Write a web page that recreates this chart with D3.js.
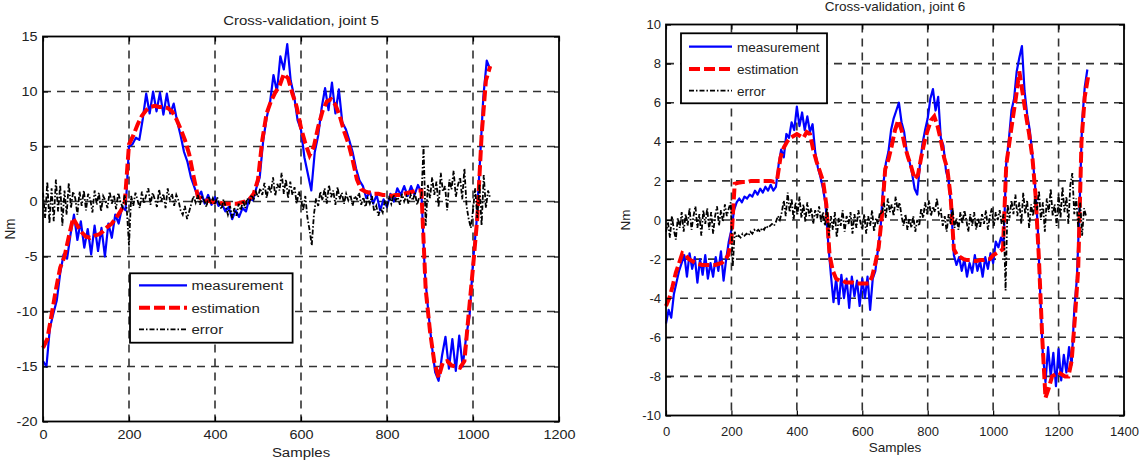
<!DOCTYPE html>
<html>
<head>
<meta charset="utf-8">
<script src="https://cdn.jsdelivr.net/npm/d3@7"></script>
<style>
  body { margin: 0; background: #fff; }
  svg { display: block; background: #fff; }
  .meas { fill: none; stroke: #0000ff; stroke-width: 2.2; stroke-linejoin: round; }
  .est { fill: none; stroke: #ff0000; stroke-width: 4; stroke-dasharray: 11,4; }
  .err { fill: none; stroke: #000; stroke-width: 1.8; stroke-dasharray: 5,2,1.5,2; }
  .grid { stroke: #333; stroke-width: 1.6; stroke-dasharray: 8,6; }
  .tick line { stroke: #000; stroke-width: 1.2; }
  .domain { display: none; }
  text { font-family: "Liberation Sans", Arial, sans-serif; fill: #222; }
</style>
</head>
<body>
<svg id="fig" width="1139" height="462"></svg>
<script>
// ---- joint 5 ----
var xTicks5 = [0, 200, 400, 600, 800, 1000, 1200];
var yTicks5 = [-20, -15, -10, -5, 0, 5, 10, 15];
var measStep5 = 8;
var meas5 = [
  -14.5,-15.0,-11.5,-10.2,-9.0,-6.5,-4.8,-5.2,-3.0,-1.2,
  -3.5,-1.8,-4.2,-2.5,-4.8,-2.2,-4.5,-2.4,-5.0,-2.0,
  -3.3,-1.2,-2.0,-0.5,-0.8,5.0,5.2,5.8,5.6,7.5,
  9.8,8.0,10.0,8.2,9.9,7.9,9.8,8.0,8.9,7.3,
  6.0,4.5,3.6,2.2,1.3,0.4,0.9,-0.2,0.6,-0.3,
  0.4,-0.4,-0.2,-0.9,-0.5,-1.6,-0.8,-1.4,-0.6,-0.9,
  0.3,0.1,1.2,2.2,5.5,7.6,9.0,11.5,10.0,13.2,
  12.0,14.3,11.0,9.6,7.4,6.5,4.0,2.5,1.0,4.5,
  6.0,8.5,10.3,8.3,10.8,8.0,10.2,7.2,6.6,5.6,
  4.5,3.0,1.9,1.4,0.3,0.9,-0.2,0.6,-0.8,0.2,
  -0.5,0.7,0.0,1.2,0.6,1.4,0.5,1.4,0.6,1.5,
  0.8,-6.5,-10.0,-13.0,-15.5,-16.3,-14.0,-12.3,-15.2,-12.5,
  -15.4,-12.2,-15.0,-12.3,-10.4,-5.5,-2.0,3.5,9.5,12.8,
  12.0
];
var estStep5 = 10;
var est5 = [
  -13.3,-12.5,-10.3,-8.0,-6.0,-5.0,-3.2,-1.5,-2.2,-2.8,
  -3.2,-3.3,-3.1,-3.0,-2.7,-2.3,-2.0,-1.5,-0.9,-0.2,
  5.2,6.0,7.0,7.8,8.3,8.6,8.7,8.6,8.6,8.5,
  8.2,7.5,6.6,5.6,4.3,2.3,0.5,0.2,0.1,0.0,
  -0.1,-0.1,-0.2,-0.2,-0.2,-0.2,-0.1,0.0,0.2,0.7,
  2.0,5.6,8.0,9.1,9.9,10.5,11.6,11.2,9.8,8.6,
  6.7,5.3,4.2,5.0,6.8,8.2,9.1,9.3,8.8,7.8,
  6.4,5.3,3.8,2.0,1.1,0.9,0.8,0.7,0.7,0.6,
  0.6,0.5,0.6,0.6,0.7,0.8,0.9,1.0,1.0,-8.0,
  -11.8,-14.6,-16.0,-14.6,-14.5,-14.9,-15.0,-15.1,-14.5,-10.2,
  -6.0,-1.5,6.0,11.0,12.3
];
var errStep5 = 5;
var err5 = [
  0.8,-1.5,1.8,-2.0,1.2,-1.8,2.0,-0.9,1.5,-2.2,1.0,-1.2,1.7,-0.6,0.9,0.3,-1.2,0.9,-0.4,1.0,
  -0.8,0.7,0.2,-1.0,1.0,-0.3,0.8,-0.9,0.5,0.1,-0.6,0.9,-0.2,0.6,-0.7,0.8,0.0,-0.5,0.6,-0.8,
  -4.0,0.5,-0.4,0.8,0.1,-0.6,0.9,-0.2,0.6,1.2,-0.3,0.8,0.2,-0.5,1.1,0.0,0.7,-0.6,1.2,0.1,
  0.7,-0.4,0.6,0.1,-0.8,-1.2,-0.4,-1.6,-0.9,-0.2,0.5,-0.1,0.6,-0.3,0.4,0.1,-0.5,0.5,-0.2,0.3,
  -0.3,0.4,-0.2,-0.7,0.2,-0.5,-1.2,-0.4,-1.5,-0.6,-1.3,-0.2,-0.8,0.1,-0.6,0.3,-0.1,0.6,0.2,0.9,
  0.4,1.2,0.6,1.7,0.3,1.4,0.8,2.2,0.5,1.6,1.0,2.6,0.7,2.0,0.3,1.8,0.6,1.3,-0.2,0.9,
  0.2,-0.8,0.5,-1.5,-2.6,-4.0,-1.2,0.3,-0.4,0.9,0.1,1.2,-0.2,1.5,0.4,1.0,-0.3,1.3,0.2,0.8,
  -0.2,0.7,0.1,0.6,-0.4,0.5,0.2,0.8,-0.3,0.4,-0.5,0.3,-0.2,0.5,-0.9,-0.4,-1.3,-0.6,-1.0,0.1,
  -0.4,0.5,-0.2,0.6,0.1,0.4,-0.3,0.7,0.0,0.5,-0.2,0.6,0.1,0.8,-0.3,0.4,0.3,5.0,-2.2,1.5,
  0.3,2.2,0.6,1.8,-0.5,2.6,0.9,1.4,-0.8,2.0,1.1,2.8,0.4,1.5,2.2,0.2,3.0,-0.4,-1.6,-2.4,
  -0.8,1.2,-1.5,1.6,-2.2,2.4,-0.6,1.0,0.3
];

// ---- joint 6 ----
var xTicks6 = [0, 200, 400, 600, 800, 1000, 1200, 1400];
var yTicks6 = [-10, -8, -6, -4, -2, 0, 2, 4, 6, 8, 10];
var measStep6 = 8;
var meas6 = [
  -5.3,-4.6,-5.0,-3.8,-3.2,-2.6,-2.2,-1.8,-2.9,-1.7,
  -2.5,-1.9,-3.2,-2.0,-2.8,-1.8,-3.0,-2.2,-2.9,-1.9,
  -2.6,-1.6,-3.1,-2.0,-1.1,-0.5,0.5,0.9,1.1,0.9,
  1.2,1.1,1.3,1.2,1.5,1.3,1.6,1.4,1.7,1.5,
  1.8,1.5,1.7,2.8,3.6,3.2,4.4,4.2,5.0,4.6,
  5.8,4.8,5.5,4.6,5.3,4.5,4.9,3.5,2.7,2.2,
  1.6,0.8,-1.2,-2.8,-4.2,-3.0,-4.3,-2.8,-4.0,-3.0,
  -4.5,-2.9,-3.9,-3.1,-4.4,-3.0,-4.0,-2.9,-4.6,-3.0,
  -2.6,-1.5,-0.4,1.8,2.9,3.5,4.6,5.2,5.6,6.0,
  5.0,4.5,3.5,3.0,2.4,1.6,1.3,2.8,3.9,4.6,
  5.2,6.2,6.7,5.6,6.3,4.2,3.8,2.5,2.0,0.6,
  -1.8,-2.3,-1.9,-2.6,-2.0,-2.9,-2.2,-2.7,-1.8,-2.6,
  -2.1,-2.9,-1.9,-2.5,-1.7,-2.2,-1.1,-1.4,-0.9,-1.2,
  2.9,4.1,5.6,6.2,7.6,8.3,8.9,6.6,5.4,4.6,
  3.3,1.8,-0.2,-3.8,-6.9,-8.3,-6.5,-8.0,-6.8,-8.5,
  -6.6,-8.2,-6.9,-7.8,-6.5,-7.4,-4.6,-3.0,0.6,5.0,
  6.8,7.7
];
var estStep6 = 10;
var est6 = [
  -4.4,-4.0,-3.4,-2.7,-2.2,-1.7,-1.8,-2.0,-2.1,-2.2,
  -2.25,-2.3,-2.3,-2.3,-2.3,-2.3,-2.25,-2.2,-2.05,-1.8,
  -1.0,1.85,1.9,1.93,1.95,1.95,2.0,2.0,2.0,2.0,
  2.0,2.0,2.0,1.95,2.1,3.2,3.7,4.0,4.2,4.3,
  4.4,4.3,4.2,4.5,4.4,3.6,3.0,2.5,2.0,0.8,
  -1.8,-2.6,-3.0,-3.1,-3.1,-3.2,-3.2,-3.2,-3.25,-3.25,
  -3.25,-3.25,-3.25,-2.9,-2.2,-1.4,0.2,2.6,3.1,3.8,
  4.6,5.1,4.6,3.8,3.2,2.7,2.1,2.3,3.2,4.0,
  4.6,5.1,5.3,4.8,4.1,3.2,2.6,1.2,-1.5,-1.8,
  -1.9,-2.0,-2.05,-2.05,-2.1,-2.1,-2.05,-2.05,-2.0,-2.0,
  -1.8,-1.7,-1.6,-1.5,2.8,4.0,5.2,6.3,7.6,6.5,
  5.4,4.4,3.2,1.2,-2.0,-6.0,-9.1,-8.6,-8.0,-7.9,
  -7.8,-7.9,-8.0,-8.0,-7.2,-5.0,-2.5,4.0,6.3,7.3
];
var errStep6 = 6;
var err6 = [
  -0.6,-0.1,-0.9,0.2,-0.5,-1.0,0.1,-0.4,0.4,-0.6,0.3,-0.3,0.6,-0.5,0.2,0.7,-0.4,0.3,-0.8,0.5,
  -0.2,0.6,-0.5,0.4,-0.7,0.2,0.7,-0.3,0.5,-0.1,0.8,0.2,0.6,0.9,-2.4,-0.6,-0.9,-0.8,-0.9,-0.7,
  -0.8,-0.7,-0.8,-0.6,-0.7,-0.5,-0.6,-0.5,-0.6,-0.4,-0.5,-0.3,-0.4,-0.3,-0.2,-0.3,-0.1,0.2,0.0,0.4,
  1.0,0.2,1.4,0.4,1.1,0.0,0.9,0.3,1.2,0.1,0.8,-0.1,0.9,0.2,0.6,-0.2,0.5,0.1,0.7,-0.1,
  0.4,-0.3,0.6,-0.8,0.2,-0.5,0.4,-0.9,0.1,-0.3,0.5,-0.6,0.2,-0.2,0.4,-0.7,0.3,-0.4,0.5,-0.1,
  -0.5,0.3,-0.7,0.2,-0.3,0.5,-0.6,0.1,-0.2,0.4,0.3,0.9,0.1,1.1,0.4,0.8,0.2,1.2,0.5,0.9,
  0.2,-0.3,0.3,-0.5,0.1,-0.4,0.2,-0.6,0.0,-0.3,0.6,0.1,0.9,0.3,1.0,0.2,0.7,0.4,1.1,0.3,
  0.5,-0.3,0.2,-0.6,0.3,-0.2,0.6,-0.4,0.1,-0.5,0.4,-0.2,0.5,0.0,-0.6,0.3,-0.3,0.4,-0.5,0.1,
  -0.4,0.3,-0.2,0.5,-0.5,0.2,0.6,-0.3,0.4,0.0,0.5,-0.2,0.3,-3.6,0.8,0.1,1.0,0.3,1.3,0.2,
  0.9,-0.2,1.4,0.3,1.0,-0.4,0.8,0.2,1.2,0.5,1.5,0.0,0.9,-0.6,1.1,0.4,1.6,0.2,0.8,-0.3,
  1.3,0.1,1.7,0.4,1.2,-0.2,1.8,2.4,0.3,1.1,-0.4,0.9,-0.8,0.6,0.2
];

var legendNames = ["measurement", "estimation", "error"];

var svg = d3.select("#fig");

function toPoints(vals, step) {
  return vals.map(function (v, i) { return [i * step, v]; });
}

function drawChart(c) {
  var g = svg.append("g");
  var x = d3.scaleLinear().domain([c.xTicks[0], c.xTicks[c.xTicks.length - 1]]).range([c.left, c.right]);
  var y = d3.scaleLinear().domain([c.yTicks[0], c.yTicks[c.yTicks.length - 1]]).range([c.bottom, c.top]);
  var sx = c.sx;

  // grid
  g.append("g").selectAll("line")
    .data(c.xTicks.slice(1, -1))
    .enter().append("line")
    .attr("class", "grid")
    .attr("x1", d => x(d)).attr("x2", d => x(d))
    .attr("y1", c.top).attr("y2", c.bottom);

  g.append("g").selectAll("line")
    .data(c.yTicks.slice(1, -1))
    .enter().append("line")
    .attr("class", "grid")
    .attr("x1", c.left).attr("x2", c.right)
    .attr("y1", d => y(d)).attr("y2", d => y(d));

  var line = d3.line().x(d => x(d[0])).y(d => y(d[1]));

  g.append("path").datum(toPoints(c.meas, c.measStep)).attr("class", "meas").attr("d", line);
  g.append("path").datum(toPoints(c.est, c.estStep)).attr("class", "est").attr("d", line);
  g.append("path").datum(toPoints(c.err, c.errStep)).attr("class", "err").attr("d", line);

  // axes, ticks inward like matlab
  var fmt = d => String(d);
  g.append("g")
    .attr("transform", "translate(0," + c.bottom + ")")
    .call(d3.axisBottom(x).tickValues(c.xTicks).tickFormat(fmt).tickSizeInner(-5).tickSizeOuter(0).tickPadding(c.xPad))
    .selectAll("text")
    .style("font-size", "13px")
    .attr("transform", "scale(" + sx + ",1)");

  g.append("g")
    .attr("transform", "translate(" + c.left + ",0)")
    .call(d3.axisLeft(y).tickValues(c.yTicks).tickFormat(fmt).tickSizeInner(-5).tickSizeOuter(0).tickPadding(5))
    .selectAll("text")
    .style("font-size", "13px")
    .attr("transform", "scale(" + sx + ",1)");

  g.append("g")
    .attr("transform", "translate(0," + c.top + ")")
    .call(d3.axisTop(x).tickValues(c.xTicks).tickFormat("").tickSizeInner(-5).tickSizeOuter(0));

  g.append("g")
    .attr("transform", "translate(" + c.right + ",0)")
    .call(d3.axisRight(y).tickValues(c.yTicks).tickFormat("").tickSizeInner(-5).tickSizeOuter(0));

  g.append("rect")
    .attr("x", c.left).attr("y", c.top)
    .attr("width", c.right - c.left).attr("height", c.bottom - c.top)
    .attr("fill", "none").attr("stroke", "#000").attr("stroke-width", 1.8);

  // title and labels
  g.append("text")
    .attr("transform", "translate(" + (c.left + c.right) / 2 + "," + c.titleY + ") scale(" + sx + ",1)")
    .attr("text-anchor", "middle")
    .style("font-size", "13.5px")
    .text(c.title);

  g.append("text")
    .attr("transform", "translate(" + (c.left + c.right) / 2 + "," + c.xLabelY + ") scale(" + sx + ",1)")
    .attr("text-anchor", "middle")
    .style("font-size", "13.5px")
    .text("Samples");

  g.append("text")
    .attr("transform", "translate(" + c.nmX + "," + (c.top + c.bottom) / 2 + ") scale(" + sx + ",1) rotate(-90)")
    .attr("text-anchor", "middle")
    .style("font-size", "13.5px")
    .text("Nm");

  // legend
  var L = c.legend;
  g.append("rect")
    .attr("x", L.x0).attr("y", L.y0).attr("width", L.w).attr("height", L.h)
    .attr("fill", "#fff").attr("stroke", "#000").attr("stroke-width", 1.8);

  var cls = ["meas", "est", "err"];
  legendNames.forEach(function (name, i) {
    g.append("line")
      .attr("class", cls[i])
      .attr("x1", L.lineX0).attr("x2", L.lineX1)
      .attr("y1", L.rows[i]).attr("y2", L.rows[i]);
    g.append("text")
      .attr("transform", "translate(" + L.textX + "," + L.rows[i] + ") scale(" + sx + ",1)")
      .attr("dy", "0.36em")
      .style("font-size", "13.5px")
      .text(name);
  });
}

drawChart({
  left: 43, right: 559, top: 36.5, bottom: 421.5,
  xTicks: xTicks5, yTicks: yTicks5, sx: 1.11,
  meas: meas5, measStep: measStep5, est: est5, estStep: estStep5, err: err5, errStep: errStep5,
  title: "Cross-validation, joint 5", titleY: 24.7, xLabelY: 456.7, xPad: 8, nmX: 15,
  legend: { x0: 130, y0: 273.3, w: 162.6, h: 69.4, lineX0: 139, lineX1: 187, textX: 191.5, rows: [285.3, 307.7, 329.3] }
});

drawChart({
  left: 666, right: 1124, top: 24.5, bottom: 415.5,
  xTicks: xTicks6, yTicks: yTicks6, sx: 1,
  meas: meas6, measStep: measStep6, est: est6, estStep: estStep6, err: err6, errStep: errStep6,
  title: "Cross-validation, joint 6", titleY: 11.4, xLabelY: 452.4, xPad: 11, nmX: 630,
  legend: { x0: 681, y0: 33.3, w: 146, h: 70, lineX0: 689, lineX1: 732, textX: 737, rows: [46.7, 69, 90.7] }
});
</script>
</body>
</html>
